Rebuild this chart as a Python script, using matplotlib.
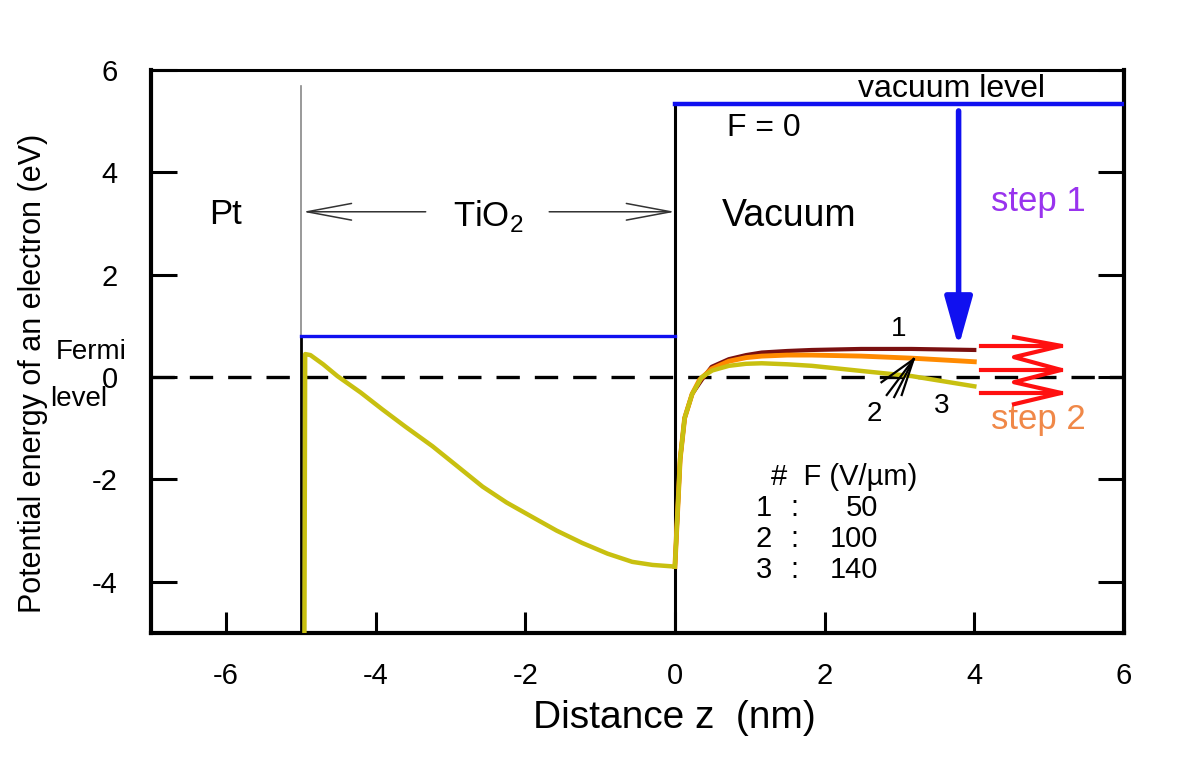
import matplotlib
matplotlib.use("Agg")
import matplotlib.pyplot as plt
import numpy as np

plt.rcParams['font.family'] = ['Liberation Sans', 'DejaVu Sans']
plt.rcParams['mathtext.fontset'] = 'custom'
plt.rcParams['mathtext.rm'] = 'Liberation Sans'

# ---- data ----
# TiO2 region potential (same for all fields)
tio2_x = [-4.95, -4.94, -4.87, -4.70, -4.51, -4.20, -3.91, -3.60, -3.24, -2.90, -2.57,
          -2.25, -1.91, -1.58, -1.24, -0.90, -0.57, -0.30, -0.02]
tio2_y = [-5.0, 0.45, 0.43, 0.25, 0.02, -0.30, -0.63, -0.97, -1.35, -1.75, -2.14,
          -2.45, -2.73, -3.00, -3.24, -3.45, -3.61, -3.67, -3.70]

# vacuum region, common rising part at the interface
rise_x = [0.0, 0.03, 0.07, 0.13, 0.23]
rise_y = [-3.70, -2.80, -1.60, -0.80, -0.33]

# curve 1 (F = 50 V/um)
c1_x = [0.36, 0.49, 0.72, 0.95, 1.16, 1.50, 1.83, 2.49, 3.16, 4.0]
c1_y = [-0.05, 0.20, 0.35, 0.43, 0.48, 0.51, 0.53, 0.55, 0.55, 0.53]
# curve 2 (F = 100 V/um)
c2_x = [0.33, 0.49, 0.72, 0.95, 1.16, 1.50, 1.83, 2.49, 3.16, 4.0]
c2_y = [-0.05, 0.16, 0.31, 0.38, 0.41, 0.43, 0.43, 0.41, 0.37, 0.30]
# curve 3 (F = 140 V/um)
c3_x = [0.36, 0.50, 0.72, 0.95, 1.16, 1.50, 1.83, 2.49, 3.16, 4.0]
c3_y = [0.00, 0.13, 0.22, 0.26, 0.27, 0.25, 0.22, 0.12, 0.02, -0.18]

fermi_level = 0.0
tio2_cb = 0.8
vacuum_level = 5.33

field_ids = ["1", "2", "3"]
field_values = ["50", "100", "140"]

xticks = [-6, -4, -2, 0, 2, 4, 6]
yticks = [-4, -2, 0, 2, 4, 6]

# red "step 2" arrows
step2_y = [0.61, 0.14, -0.31]
zig_x = [4.53, 5.16, 4.53, 5.16, 4.53, 5.16, 4.53]
zig_y = [0.78, 0.61, 0.39, 0.14, -0.10, -0.31, -0.53]

col_yellow = '#c8c010'
col_orange = '#ff8a00'
col_dark = '#7a1010'
col_blue = '#1010f0'

fig = plt.figure(figsize=(12, 7.63), dpi=100)
ax = fig.add_axes([151/1200, 130/763, 973/1200, 563/763])
ax.set_xlim(-7, 6)
ax.set_ylim(-5, 6)

# Fermi level
ax.axhline(fermi_level, color='black', lw=2.4, ls=(0, (7, 4.5)), zorder=2)

# interfaces
ax.plot([-5, -5], [5.69, tio2_cb], color='#888888', lw=1.2, zorder=2)
ax.plot([-5, -5], [tio2_cb, -5], color='black', lw=2.0, zorder=2)
ax.plot([0, 0], [vacuum_level, -5], color='black', lw=2.2, zorder=2)

# band levels
ax.plot([-5, 0], [tio2_cb, tio2_cb], color=col_blue, lw=2.4, zorder=3)
ax.plot([0, 6], [vacuum_level, vacuum_level], color=col_blue, lw=3.2, zorder=3)

# curves
ax.plot(rise_x + c1_x, rise_y + c1_y, color=col_dark, lw=3, zorder=4)
ax.plot(rise_x + c2_x, rise_y + c2_y, color=col_orange, lw=3.5, zorder=4)
ax.plot(tio2_x, tio2_y, color=col_yellow, lw=3.2, zorder=5)
ax.plot(rise_x + c3_x, rise_y + c3_y, color=col_yellow, lw=3.2, zorder=5)

# step 1 arrow
ax.annotate('', xy=(3.79, 0.59), xytext=(3.79, 5.2),
            arrowprops=dict(arrowstyle='-|>,head_length=1.5,head_width=0.42',
                            color=col_blue, lw=4, mutation_scale=20,
                            shrinkA=0, shrinkB=0), zorder=6)

# step 2 arrows
for yy in step2_y:
    ax.plot([4.09, 5.16], [yy, yy], color='#ff1010', lw=3, zorder=6)
ax.plot(zig_x, zig_y, color='#ff1010', lw=3, zorder=6)

# black annotation arrow for curve 2
fan_x = [2.76, 2.83, 2.93, 3.03]
fan_y = [-0.10, -0.35, -0.39, -0.35]
for fx, fy in zip(fan_x, fan_y):
    ax.plot([fx, 3.19], [fy, 0.35], color='black', lw=1.6, zorder=7)

# TiO2 span arrows
ax.annotate('', xy=(-4.97, 3.23), xytext=(-3.33, 3.23),
            arrowprops=dict(arrowstyle='->,head_length=1.6,head_width=0.3',
                            color='#333333', lw=1.1, mutation_scale=20,
                            shrinkA=0, shrinkB=0))
ax.annotate('', xy=(0.0, 3.23), xytext=(-1.68, 3.23),
            arrowprops=dict(arrowstyle='->,head_length=1.6,head_width=0.3',
                            color='#333333', lw=1.1, mutation_scale=20,
                            shrinkA=0, shrinkB=0))

# texts
tk = dict(ha='center', va='center')
ax.text(-6.01, 3.18, 'Pt', fontsize=25, **tk)
ax.text(-2.5, 3.14, r'TiO$_\mathregular{2}$', fontsize=25, **tk)
ax.text(1.52, 3.14, 'Vacuum', fontsize=27, **tk)
ax.text(1.19, 4.86, 'F = 0', fontsize=23, **tk)
ax.text(3.69, 5.63, 'vacuum level', fontsize=23, **tk)
ax.text(4.85, 3.43, 'step 1', fontsize=25, color='#9933ee', **tk)
ax.text(4.85, -0.82, 'step 2', fontsize=25, color='#f08848', **tk)
ax.text(2.99, 0.94, field_ids[0], fontsize=20, **tk)
ax.text(2.67, -0.73, field_ids[1], fontsize=20, **tk)
ax.text(3.56, -0.57, field_ids[2], fontsize=20, **tk)
ax.text(-7.8, 0.49, 'Fermi', fontsize=20, clip_on=False, **tk)
ax.text(-7.97, -0.43, 'level', fontsize=20, clip_on=False, **tk)

# field table
ax.text(1.29, -1.96, '#  F (V/µm)', fontsize=21, ha='left', va='center')
for i, (fid, fv) in enumerate(zip(field_ids, field_values)):
    yy = -2.55 - 0.61 * i
    ax.text(1.19, yy, fid, fontsize=21, ha='center', va='center')
    ax.text(1.60, yy, ':', fontsize=21, ha='center', va='center')
    ax.text(2.72, yy, fv, fontsize=21, ha='right', va='center')

# axes styling
ax.set_xticks(xticks)
ax.set_yticks(yticks)
ax.set_xticklabels([str(t) for t in xticks])
ax.set_yticklabels([str(t) for t in yticks])
ax.tick_params(axis='x', direction='in', length=15, width=2.2, labelsize=21, pad=21,
               top=False, bottom=True)
ax.tick_params(axis='y', direction='in', length=19, width=2.2, labelsize=21, pad=24,
               left=True, right=True)
for s in ax.spines.values():
    s.set_linewidth(3)
ax.spines['top'].set_linewidth(2.2)

ax.set_xlabel('Distance z  (nm)', fontsize=28, va='center')
ax.xaxis.set_label_coords((674 - 151) / 973, ((763 - 718) - 130) / 563)
ax.set_ylabel('Potential energy of an electron (eV)', fontsize=22, va='center')
ax.yaxis.set_label_coords((33 - 151) / 973, (763 - 130 - 373) / 563)

fig.savefig('out.png', dpi=100)
